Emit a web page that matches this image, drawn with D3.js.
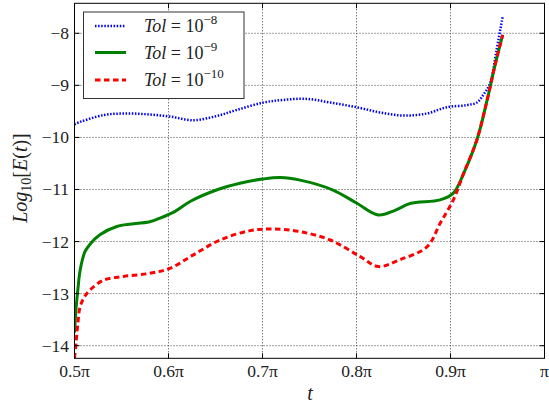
<!DOCTYPE html>
<html><head><meta charset="utf-8">
<script src="https://cdn.jsdelivr.net/npm/d3@7"></script>
<style>
body{margin:0;background:#fff;}
</style></head>
<body><svg id="c" width="549" height="405" font-family="'Liberation Serif', serif"></svg>
<script>
// t in units of pi
const blueT = [0.500,0.502,0.531,0.556,0.580,0.602,0.626,0.651,0.673,0.701,0.722,0.747,0.772,0.800,0.825,0.850,0.875,0.896,0.917,0.928,0.935,0.942,0.949,0.9555];
const blueV = [-9.75,-9.73,-9.57,-9.54,-9.56,-9.60,-9.67,-9.59,-9.47,-9.33,-9.28,-9.26,-9.33,-9.42,-9.52,-9.58,-9.54,-9.42,-9.38,-9.33,-9.18,-8.96,-8.32,-7.68];
const greenT = [0.500,0.5016,0.5037,0.506,0.511,0.5165,0.527,0.545,0.580,0.591,0.607,0.623,0.651,0.676,0.700,0.719,0.740,0.775,0.800,0.823,0.841,0.857,0.889,0.903,0.914,0.928,0.939,0.947,0.9555];
const greenV = [-13.75,-13.3,-12.9,-12.55,-12.2,-12.05,-11.87,-11.71,-11.62,-11.55,-11.42,-11.23,-11.01,-10.88,-10.80,-10.77,-10.82,-11.01,-11.26,-11.49,-11.40,-11.27,-11.2,-11.07,-10.69,-10.05,-9.28,-8.64,-8.03];
const redT = [0.500,0.5016,0.5037,0.506,0.511,0.5165,0.531,0.552,0.580,0.602,0.626,0.655,0.687,0.711,0.740,0.772,0.804,0.823,0.846,0.875,0.889,0.903,0.914,0.928,0.939,0.947,0.9555];
const redV = [-14.24,-13.95,-13.55,-13.25,-13.05,-12.93,-12.74,-12.67,-12.61,-12.51,-12.26,-11.97,-11.79,-11.76,-11.81,-11.97,-12.29,-12.48,-12.35,-12.10,-11.65,-11.2,-10.69,-10.05,-9.28,-8.64,-8.03];
const xTicks = [0.5,0.6,0.7,0.8,0.9,1.0];
const xTickLabels = ["0.5π","0.6π","0.7π","0.8π","0.9π","π"];
const yTicks = [-8,-9,-10,-11,-12,-13,-14];
const seriesNames = ["−8","−9","−10"];

const svg = d3.select("#c");
const L=74.5,R=544.5,T=3.3,B=358.3;
const x = d3.scaleLinear().domain([0.5,1.0]).range([L,R]);
const y = d3.scaleLinear().domain([-14.242,-7.424]).range([B,T]);

// grid
const g = svg.append("g");
g.selectAll(".gx").data(xTicks.slice(1,-1)).join("line")
 .attr("x1",d=>x(d)).attr("x2",d=>x(d)).attr("y1",T).attr("y2",B)
 .attr("stroke","#444").attr("stroke-width",1).attr("stroke-dasharray","1,2");
g.selectAll(".gy").data(yTicks).join("line")
 .attr("x1",L).attr("x2",R).attr("y1",d=>y(d)).attr("y2",d=>y(d))
 .attr("stroke","#444").attr("stroke-width",1).attr("stroke-dasharray","1,2");

// lines
const line = d3.line().x(d=>x(d[0])).y(d=>y(d[1])).curve(d3.curveCatmullRom.alpha(0.5));
svg.append("clipPath").attr("id","clp").append("rect").attr("x",L).attr("y",T).attr("width",R-L).attr("height",B-T);
const lg = svg.append("g").attr("clip-path","url(#clp)");
lg.append("path").datum(blueT.map((t,i)=>[t,blueV[i]])).attr("d",line)
 .attr("fill","none").attr("stroke","#0000ff").attr("stroke-width",2.5).attr("stroke-dasharray","1.5,1.6");
lg.append("path").datum(greenT.map((t,i)=>[t,greenV[i]])).attr("d",line)
 .attr("fill","none").attr("stroke","#008000").attr("stroke-width",3);
lg.append("path").datum(redT.map((t,i)=>[t,redV[i]])).attr("d",line)
 .attr("fill","none").attr("stroke","#ff0000").attr("stroke-width",3).attr("stroke-dasharray","5.5,3.5");

// frame
svg.append("rect").attr("x",L).attr("y",T).attr("width",R-L).attr("height",B-T)
 .attr("fill","none").attr("stroke","#000").attr("stroke-width",1);

// ticks inward
const tk = svg.append("g").attr("stroke","#000").attr("stroke-width",1);
xTicks.forEach(d=>{
  tk.append("line").attr("x1",x(d)).attr("x2",x(d)).attr("y1",B).attr("y2",B-5);
  tk.append("line").attr("x1",x(d)).attr("x2",x(d)).attr("y1",T).attr("y2",T+5);
});
yTicks.forEach(d=>{
  tk.append("line").attr("x1",L).attr("x2",L+5).attr("y1",y(d)).attr("y2",y(d));
  tk.append("line").attr("x1",R).attr("x2",R-5).attr("y1",y(d)).attr("y2",y(d));
});

// tick labels
svg.selectAll(".xl").data(xTicks).join("text")
 .attr("x",d=>x(d)).attr("y",377).attr("text-anchor","middle").attr("font-size",17.5)
 .attr("fill","#222").text((d,i)=>xTickLabels[i]);
svg.selectAll(".yl").data(yTicks).join("text")
 .attr("x",69).attr("y",d=>y(d)+6).attr("text-anchor","end").attr("font-size",17.5)
 .attr("fill","#222").text(d=>"−"+Math.abs(d));

// axis labels
svg.append("text").attr("x",310).attr("y",400).attr("text-anchor","middle")
 .attr("font-size",20).attr("font-style","italic").attr("fill","#222").text("t");
const yl = svg.append("text").attr("transform","translate(27,178) rotate(-90)")
 .attr("text-anchor","middle").attr("font-size",20).attr("fill","#222");
yl.append("tspan").attr("font-style","italic").text("Log");
yl.append("tspan").attr("font-size",14).attr("dy",4).text("10");
yl.append("tspan").attr("dy",-4).text("[");
yl.append("tspan").attr("font-style","italic").text("E");
yl.append("tspan").text("(");
yl.append("tspan").attr("font-style","italic").text("t");
yl.append("tspan").text(")]");

// legend
svg.append("rect").attr("x",83.5).attr("y",12).attr("width",160.5).attr("height",86.5)
 .attr("fill","#fff").attr("stroke","#333").attr("stroke-width",1);
const rows=[26,52.5,80];
const styles=[{c:"#0000ff",w:2.5,d:"1.5,1.6"},{c:"#008000",w:3,d:null},{c:"#ff0000",w:3,d:"5.5,3.5"}];
rows.forEach((ry,i)=>{
  const s=styles[i];
  const ln=svg.append("line").attr("x1",95).attr("x2",126).attr("y1",ry).attr("y2",ry)
   .attr("stroke",s.c).attr("stroke-width",s.w);
  if(s.d) ln.attr("stroke-dasharray",s.d);
  const t=svg.append("text").attr("x",144).attr("y",ry+6).attr("font-size",18).attr("fill","#222");
  t.append("tspan").attr("font-style","italic").text("Tol");
  t.append("tspan").text(" = 10");
  t.append("tspan").attr("font-size",13).attr("dy",-8).text(seriesNames[i]);
});
</script></body></html>
